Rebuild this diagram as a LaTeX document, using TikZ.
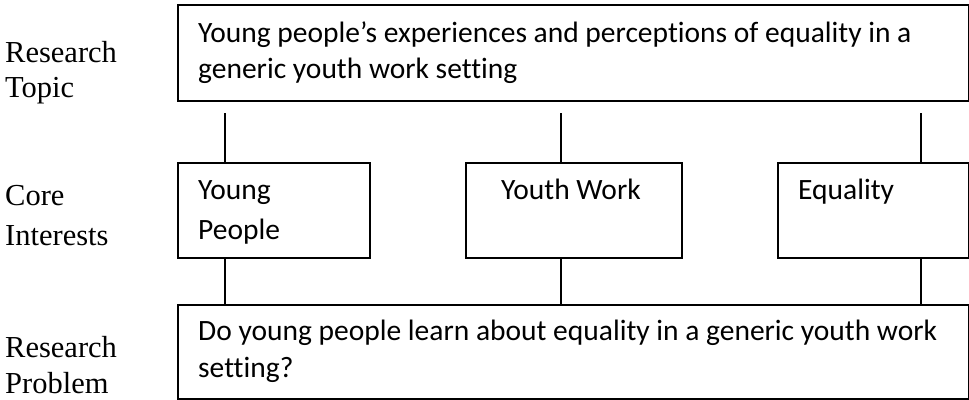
\documentclass[tikz,border=0pt]{standalone}
\usepackage{fontspec}
\setmainfont{Liberation Serif}
\newfontfamily\boxfont[Ligatures=NoCommon]{Carlito}
\usetikzlibrary{calc}
\begin{document}
\begin{tikzpicture}[x=1pt,y=-1pt,
  frame/.style={draw=black,line width=1.8pt,anchor=north west,inner sep=0pt},
  boxtext/.style={anchor=base west,inner sep=0pt,align=left,
    font=\boxfont\fontsize{29.5}{36}\selectfont},
  sidelabel/.style={anchor=base west,inner sep=0pt,align=left,
    font=\fontsize{30.5}{35}\selectfont},
  link/.style={draw=black,line width=1.8pt}]
\useasboundingbox (0,0) rectangle (969,399);

% boxes
\node[frame,minimum width=791pt,minimum height=96pt] (topic) at (177,4) {};
\node[frame,minimum width=192pt,minimum height=95pt] (yp) at (177,162) {};
\node[frame,minimum width=216pt,minimum height=95pt] (yw) at (465,162) {};
\node[frame,minimum width=191pt,minimum height=95pt] (eq) at (777,162) {};
\node[frame,minimum width=791pt,minimum height=94pt] (problem) at (177,304) {};

% box texts (a multi-line node sits on the baseline of its last line)
\node[boxtext] (topictxt) at (198,78) {Young people’s experiences and perceptions of equality in a\\generic youth work setting};
\node[boxtext,font=\boxfont\fontsize{29.5}{40}\selectfont] (yptxt) at (198,239) {Young\\People};
\node[boxtext] (ywtxt) at (501,199) {Youth Work};
\node[boxtext] (eqtxt) at (798,199) {Equality};
\node[boxtext,font=\boxfont\fontsize{29.5}{37}\selectfont] (problemtxt) at (198,377) {Do young people learn about equality in a generic youth work\\setting?};

% level labels
\node[sidelabel] (l1) at (5,97) {Research\\Topic};
\node[sidelabel,font=\fontsize{30.5}{40}\selectfont] (l2) at (5,245) {Core\\Interests};
\node[sidelabel,font=\fontsize{30.5}{36}\selectfont] (l3) at (5,393) {Research\\Problem};

% connectors
\coordinate (c1) at (225,113);
\coordinate (c2) at (561,113);
\coordinate (c3) at (921,113);
\draw[link] (c1) -- (c1 |- yp.north);
\draw[link] (c2) -- (c2 |- yw.north);
\draw[link] (c3) -- (c3 |- eq.north);
\draw[link] (c1 |- yp.south) -- (c1 |- problem.north);
\draw[link] (c2 |- yw.south) -- (c2 |- problem.north);
\draw[link] (c3 |- eq.south) -- (c3 |- problem.north);
\end{tikzpicture}
\end{document}
